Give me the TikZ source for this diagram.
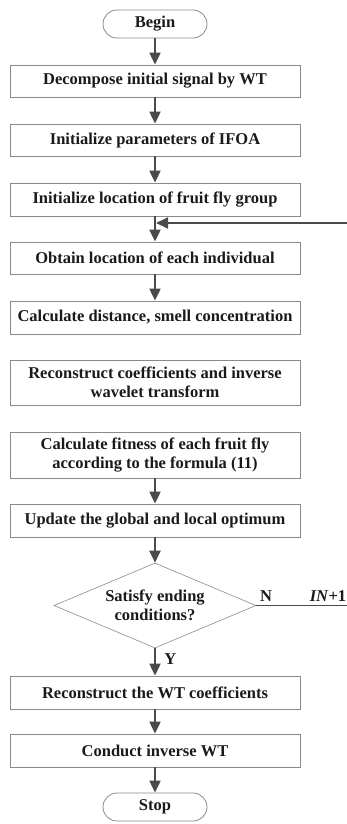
\documentclass[tikz,border=0pt]{standalone}
\usepackage{fontspec}
\setmainfont{Liberation Serif}
\usetikzlibrary{arrows.meta,shapes.geometric}
\definecolor{boxline}{HTML}{8A8A8A}
\definecolor{arrowc}{HTML}{4A4A4A}
\definecolor{txt}{HTML}{1A1A1A}
\tikzset{
  x=1pt,y=-1pt,
  every node/.style={font=\fontsize{16.5}{18.5}\selectfont\bfseries, text=txt},
  procbox/.style={draw=boxline, line width=0.8pt, minimum width=290pt, inner sep=0pt, align=center},
  termbox/.style={draw=boxline, line width=0.8pt, rounded corners=14pt, minimum width=104pt, minimum height=28pt, inner sep=0pt},
  decbox/.style={draw=boxline, line width=0.6pt, diamond, aspect=2.36, minimum width=202pt, minimum height=85pt, inner sep=0pt, align=center},
  flow/.style={draw=arrowc, line width=2pt, -{Triangle[length=12pt,width=11pt]}},
  plainline/.style={draw=arrowc, line width=1.6pt},
  lbl/.style={font=\fontsize{16.5}{18.5}\selectfont\bfseries}
}
\begin{document}
\begin{tikzpicture}
\useasboundingbox (0,0) rectangle (347,824);
\node[termbox] (begin) at (155,24) {Begin};
\node[procbox, minimum height=32pt] (b1) at (155,81) {Decompose initial signal by WT};
\node[procbox, minimum height=32pt] (b2) at (155,140) {Initialize parameters of IFOA};
\node[procbox, minimum height=33pt] (b3) at (155,199.5) {Initialize location of fruit fly group};
\node[procbox, minimum height=32pt] (b4) at (155,258) {Obtain location of each individual};
\node[procbox, minimum height=33pt] (b5) at (155,317.5) {Calculate distance, smell concentration};
\node[procbox, minimum height=45pt] (b6) at (155,382.5) {Reconstruct coefficients and inverse\\wavelet transform};
\node[procbox, minimum height=46pt] (b7) at (155,455) {Calculate fitness of each fruit fly\\according to the formula (11)};
\node[procbox, minimum height=33pt] (b8) at (155,520.5) {Update the global and local optimum};
\node[decbox] (d) at (155,605.5) {Satisfy ending\\conditions?};
\node[procbox, minimum height=33pt] (b9) at (155,692.5) {Reconstruct the WT coefficients};
\node[procbox, minimum height=33pt] (b10) at (155,750.5) {Conduct inverse WT};
\node[termbox] (stop) at (155,807) {Stop};
\coordinate (fb) at (347,223);
\coordinate (nend) at (347,605.5);
\coordinate (fbtip) at (156,223);
\draw[flow] (begin) -- (b1);
\draw[flow] (b1) -- (b2);
\draw[flow] (b2) -- (b3);
\draw[flow] (b3) -- (b4);
\draw[flow] (b4) -- (b5);
\draw[flow] (b7) -- (b8);
\draw[flow] (b8) -- (d);
\draw[flow] (d) -- node[lbl, right, pos=0.4, xshift=5pt] (ylab) {Y} (b9);
\draw[flow] (b9) -- (b10);
\draw[flow] (b10) -- (stop);
\draw[flow] (fb) -- (fbtip);
\draw[plainline] (d.east) -- (nend);
\node[lbl] (nlab) at (266,596) {N};
\node[lbl] (inlab) at (328,596) {\textit{IN}+1};
\end{tikzpicture}
\end{document}
